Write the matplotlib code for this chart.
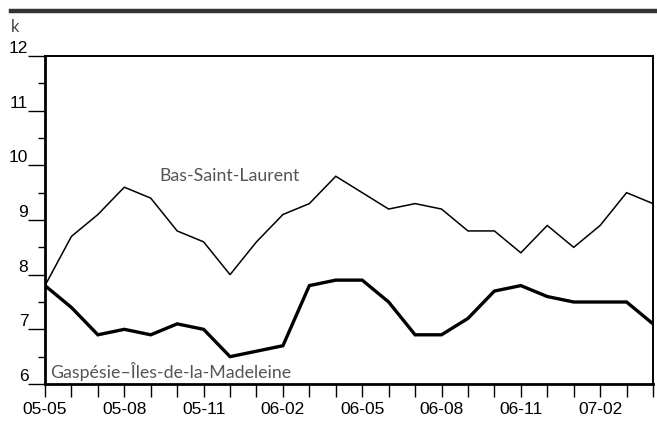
import matplotlib
matplotlib.use("Agg")
import matplotlib.pyplot as plt
import numpy as np

months = ["05-05", "05-06", "05-07", "05-08", "05-09", "05-10", "05-11", "05-12",
          "06-01", "06-02", "06-03", "06-04", "06-05", "06-06", "06-07", "06-08",
          "06-09", "06-10", "06-11", "06-12", "07-01", "07-02", "07-03", "07-04"]
bas_saint_laurent = [7.8, 8.7, 9.1, 9.6, 9.4, 8.8, 8.6, 8.0, 8.6, 9.1, 9.3, 9.8,
                     9.5, 9.2, 9.3, 9.2, 8.8, 8.8, 8.4, 8.9, 8.5, 8.9, 9.5, 9.3]
gaspesie = [7.8, 7.4, 6.9, 7.0, 6.9, 7.1, 7.0, 6.5, 6.6, 6.7, 7.8, 7.9,
            7.9, 7.5, 6.9, 6.9, 7.2, 7.7, 7.8, 7.6, 7.5, 7.5, 7.5, 7.1]
y_ticks = [6, 7, 8, 9, 10, 11, 12]

x = np.arange(len(months))

fig = plt.figure(figsize=(6.57, 4.29), dpi=100)
ax = fig.add_axes([45 / 657, 1 - 384 / 429, 608 / 657, 328 / 429])

ax.plot(x, bas_saint_laurent, color="black", lw=1.1, solid_joinstyle="miter")
ax.plot(x, gaspesie, color="black", lw=2.4, solid_joinstyle="miter")

ax.set_xlim(0, len(months) - 1)
ax.set_ylim(6, 12)

ax.set_xticks(x)
ax.set_xticklabels([m if i % 3 == 0 else "" for i, m in enumerate(months)],
                   fontsize=12.5, family="Liberation Sans")
ax.tick_params(axis="x", direction="out", length=9, width=1, pad=4)

ax.set_yticks(y_ticks)
ax.set_yticks(np.arange(6.5, 12, 1), minor=True)
ax.set_yticklabels([str(v) for v in y_ticks], fontsize=12.5,
                   family="Liberation Sans", va="bottom")
ax.tick_params(axis="y", which="major", direction="out", length=12, width=1, pad=0)
ax.tick_params(axis="y", which="minor", direction="out", length=5, width=1)

for side in ["left", "bottom"]:
    ax.spines[side].set_linewidth(2)
for side in ["top", "right"]:
    ax.spines[side].set_linewidth(1.4)

ax.text(7, 9.8, "Bas-Saint-Laurent", fontsize=12.8, color="#555555",
        family="Lato", ha="center", va="center")
ax.text(0.2, 6.22, "Gaspésie–Îles-de-la-Madeleine", fontsize=12.8, color="#555555",
        family="Lato", ha="left", va="center")

fig.text(11 / 657, 1 - 27 / 429, "k", fontsize=12, color="#444444",
         family="Lato", ha="left", va="center")
fig.add_artist(plt.Line2D([11 / 657, 1], [1 - 11 / 429, 1 - 11 / 429],
                          color="#333333", lw=3.2, transform=fig.transFigure))

fig.savefig("out.png", dpi=100)
